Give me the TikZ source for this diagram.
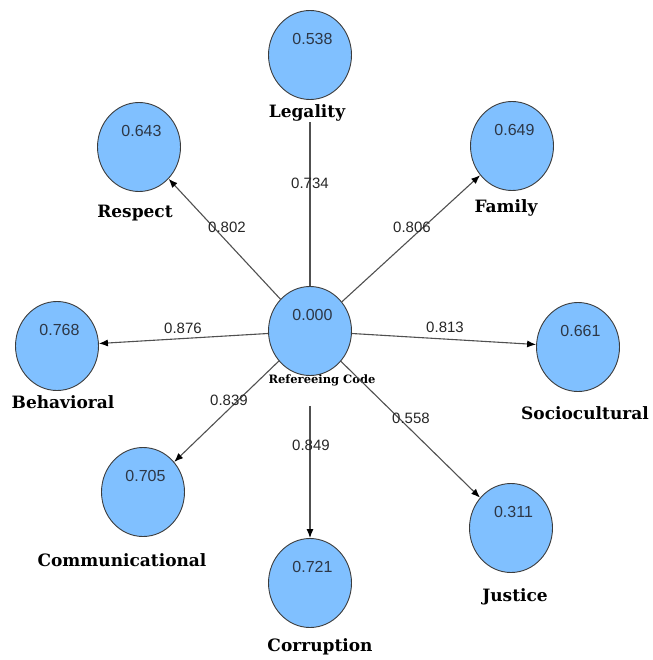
\documentclass[tikz,border=0pt]{standalone}
\usepackage{fontspec}
\setmainfont{DejaVu Serif}
\newfontfamily\valfont{Liberation Sans}
\usetikzlibrary{arrows.meta,shapes.geometric}

\definecolor{bubble}{RGB}{128,192,255}
\definecolor{rim}{RGB}{60,60,60}
\definecolor{link}{RGB}{80,80,80}
\definecolor{numtxt}{RGB}{45,55,70}

\tikzset{
  construct/.style={ellipse, draw=rim, fill=bubble, line width=0.9pt,
    minimum width=83pt, minimum height=89pt, inner sep=0pt},
  value/.style={font=\valfont\fontsize{16}{18}\selectfont, text=numtxt, inner sep=0pt},
  factor/.style={font=\bfseries\fontsize{17}{20}\selectfont, inner sep=0pt},
  coef/.style={font=\valfont\fontsize{15}{17}\selectfont, text=black!85, inner sep=0pt},
  loading/.style={draw=link, line width=1.1pt, -{Latex[length=9pt,width=7pt,black]}},
  plain/.style={draw=link, line width=1.1pt},
}

\begin{document}
\begin{tikzpicture}[x=1pt,y=-1pt]
    \useasboundingbox (0,0) rectangle (652,660);

    % constructs
    \node[construct] (ref) at (310,331) {};
    \node[construct] (legality) at (310,55) {};
    \node[construct] (respect) at (139,147) {};
    \node[construct] (family) at (512,146) {};
    \node[construct] (behavioral) at (57,346) {};
    \node[construct] (socio) at (578,347) {};
    \node[construct] (comm) at (143,492) {};
    \node[construct] (corruption) at (310,583) {};
    \node[construct] (justice) at (511,528) {};

    % R-squared values
    \node[value] (refVal) at ([shift={(2.5pt,16pt)}]ref.center) {0.000};
    \node[value] (legalityVal) at ([shift={(2.5pt,16pt)}]legality.center) {0.538};
    \node[value] (respectVal) at ([shift={(2.5pt,16pt)}]respect.center) {0.643};
    \node[value] (familyVal) at ([shift={(2.5pt,16pt)}]family.center) {0.649};
    \node[value] (behavioralVal) at ([shift={(2.5pt,16pt)}]behavioral.center) {0.768};
    \node[value] (socioVal) at ([shift={(2.5pt,16pt)}]socio.center) {0.661};
    \node[value] (commVal) at ([shift={(2.5pt,16pt)}]comm.center) {0.705};
    \node[value] (corruptionVal) at ([shift={(2.5pt,16pt)}]corruption.center) {0.721};
    \node[value] (justiceVal) at ([shift={(2.5pt,16pt)}]justice.center) {0.311};

    % construct names
    \node[factor, font=\bfseries\fontsize{11.5}{13}\selectfont] (refLbl) at (322,380) {Refereeing Code};
    \node[factor] (legalityLbl) at (307,113) {Legality};
    \node[factor] (respectLbl) at (135,213) {Respect};
    \node[factor] (familyLbl) at (506,208) {Family};
    \node[factor] (behavioralLbl) at (63,402) {Behavioral};
    \node[factor] (socioLbl) at (585,413) {Sociocultural};
    \node[factor] (commLbl) at (122,560) {Communicational};
    \node[factor] (corruptionLbl) at (320,647) {Corruption};
    \node[factor] (justiceLbl) at (515,597) {Justice};

    % outer loadings
    \draw[plain] (ref) -- (ref |- legalityLbl.south);
    \draw[loading] (ref) -- (respect);
    \draw[loading] (ref) -- (family);
    \draw[loading] (ref) -- (behavioral);
    \draw[loading] (ref) -- (socio);
    \draw[loading] (ref) -- (comm);
    \draw[loading, shorten <=30pt] (ref) -- (corruption);
    \draw[loading] (ref) -- (justice);

    \node[coef] (cLegality) at (310,183) {0.734};
    \node[coef] (cRespect) at (227,227) {0.802};
    \node[coef] (cFamily) at (412,227) {0.806};
    \node[coef] (cBehavioral) at (183,328) {0.876};
    \node[coef] (cSocio) at (445,327) {0.813};
    \node[coef] (cComm) at (229,400) {0.839};
    \node[coef] (cCorruption) at (311,445) {0.849};
    \node[coef] (cJustice) at (411,418) {0.558};
\end{tikzpicture}
\end{document}
